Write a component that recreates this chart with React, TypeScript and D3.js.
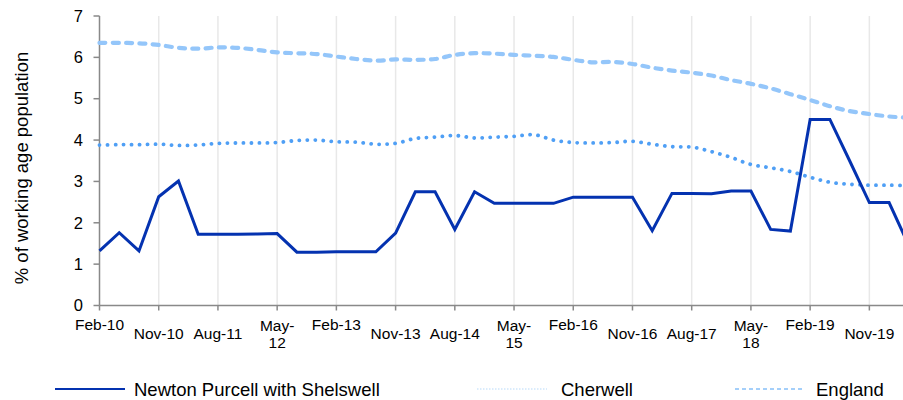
import * as React from 'react';
import { scaleLinear, line, curveCatmullRom, curveLinear } from 'd3';

// quarterly categories, Feb-10 .. May-20 (last one falls just past the right edge)
const months = ['Feb', 'May', 'Aug', 'Nov'];
const categories: string[] = [];
for (let yr = 10; yr <= 20; yr++) {
    for (const m of months) {
        if (yr === 20 && (m === 'Aug' || m === 'Nov')) continue;
        categories.push(`${m}-${yr}`);
    }
}

const newtonPurcell = [
    1.32, 1.76, 1.32, 2.63, 3.01, 1.72, 1.72, 1.72, 1.73, 1.74,
    1.29, 1.29, 1.30, 1.30, 1.30, 1.75, 2.75, 2.75, 1.84, 2.75,
    2.47, 2.47, 2.47, 2.47, 2.62, 2.62, 2.62, 2.62, 1.81, 2.71,
    2.71, 2.70, 2.77, 2.77, 1.84, 1.80, 4.50, 4.50, 3.50, 2.49,
    2.49, 1.45
];

const cherwell = [
    3.88, 3.89, 3.89, 3.90, 3.87, 3.88, 3.92, 3.93, 3.93, 3.94,
    3.99, 4.00, 3.96, 3.95, 3.90, 3.92, 4.04, 4.07, 4.11, 4.05,
    4.07, 4.09, 4.13, 4.00, 3.94, 3.93, 3.94, 3.97, 3.90, 3.84,
    3.83, 3.72, 3.58, 3.41, 3.33, 3.24, 3.10, 2.98, 2.93, 2.91,
    2.91, 2.90
];

const england = [
    6.35, 6.35, 6.34, 6.30, 6.23, 6.21, 6.24, 6.23, 6.18, 6.12,
    6.10, 6.08, 6.02, 5.96, 5.92, 5.95, 5.94, 5.96, 6.06, 6.10,
    6.09, 6.06, 6.04, 6.01, 5.94, 5.88, 5.89, 5.84, 5.75, 5.68,
    5.63, 5.56, 5.45, 5.36, 5.25, 5.11, 4.97, 4.82, 4.70, 4.63,
    4.57, 4.54
];

const yTicks = [0, 1, 2, 3, 4, 5, 6, 7];

const FONT = '"Liberation Sans", Arial, sans-serif';
const AXIS = '#898989';

const App = () => {
    const left = 99.5, top = 16, bottom = 305.5;
    const step = 19.74;

    const x = scaleLinear().domain([0, 1]).range([left, left + step]);
    const y = scaleLinear().domain([0, 7]).range([bottom, top]);

    const straight = line<number>().x((d, i) => x(i)).y(d => y(d)).curve(curveLinear);
    const smooth = line<number>().x((d, i) => x(i)).y(d => y(d)).curve(curveCatmullRom.alpha(0.5));

    const labelIdx = categories.map((c, i) => i).filter(i => i % 3 === 0 && i < 40);

    return (
        <svg width={903} height={400} style={{ position: 'fixed', left: 0, top: 0, background: '#fff' }} fontFamily={FONT}>
            {/* vertical gridlines */}
            {labelIdx.filter(i => i > 0).map(i => (
                <line key={'g' + i} x1={x(i)} x2={x(i)} y1={top} y2={bottom} stroke="#e8e8e8" strokeWidth={1.5} />
            ))}

            {/* axes */}
            <line x1={left} x2={left} y1={top} y2={bottom} stroke={AXIS} strokeWidth={1.5} />
            <line x1={left} x2={903} y1={bottom} y2={bottom} stroke={AXIS} strokeWidth={1.5} />
            {yTicks.map(t => (
                <g key={'y' + t}>
                    <line x1={left - 6} x2={left} y1={y(t)} y2={y(t)} stroke={AXIS} strokeWidth={1.5} />
                    <text x={83} y={y(t)} dy="0.35em" textAnchor="end" fontSize={16.5} fill="#000">{t}</text>
                </g>
            ))}
            {labelIdx.map(i => {
                const [m, yr] = categories[i].split('-');
                return (
                    <g key={'x' + i}>
                        <line x1={x(i)} x2={x(i)} y1={bottom} y2={bottom + 5} stroke={AXIS} strokeWidth={1.5} />
                        {m === 'May' ? (
                            <text x={x(i)} textAnchor="middle" fontSize={15.5} fill="#000">
                                <tspan x={x(i)} y={330.5}>{m}-</tspan>
                                <tspan x={x(i)} y={347.5}>{yr}</tspan>
                            </text>
                        ) : (
                            <text x={x(i)} y={m === 'Feb' ? 330 : 338.5} textAnchor="middle" fontSize={15.5} fill="#000">{categories[i]}</text>
                        )}
                    </g>
                );
            })}

            <text transform="translate(28,168) rotate(-90)" textAnchor="middle" fontSize={18.5} fill="#000">% of working age population</text>

            {/* series */}
            <path d={smooth(england) || ''} fill="none" stroke="#94c6fa" strokeWidth={4.2} strokeDasharray="6 7.3" strokeLinecap="round" />
            <path d={smooth(cherwell) || ''} fill="none" stroke="#4f9ff5" strokeWidth={3.8} strokeDasharray="0.1 7.9" strokeLinecap="round" />
            <path d={straight(newtonPurcell) || ''} fill="none" stroke="#0432b0" strokeWidth={3} strokeLinejoin="miter" />

            {/* legend */}
            <line x1={55} x2={125} y1={389} y2={389} stroke="#0432b0" strokeWidth={2} />
            <text x={134} y={396} fontSize={18.5} fill="#000">Newton Purcell with Shelswell</text>
            <line x1={477} x2={547} y1={389} y2={389} stroke="#cfe6fb" strokeWidth={1.5} strokeDasharray="1.5 1.5" />
            <text x={561} y={396} fontSize={18.5} fill="#000">Cherwell</text>
            <line x1={735} x2={803} y1={389} y2={389} stroke="#a4cffa" strokeWidth={2} strokeDasharray="4 3" />
            <text x={816} y={396} fontSize={18.5} fill="#000">England</text>
        </svg>
    );
};

export default App;
